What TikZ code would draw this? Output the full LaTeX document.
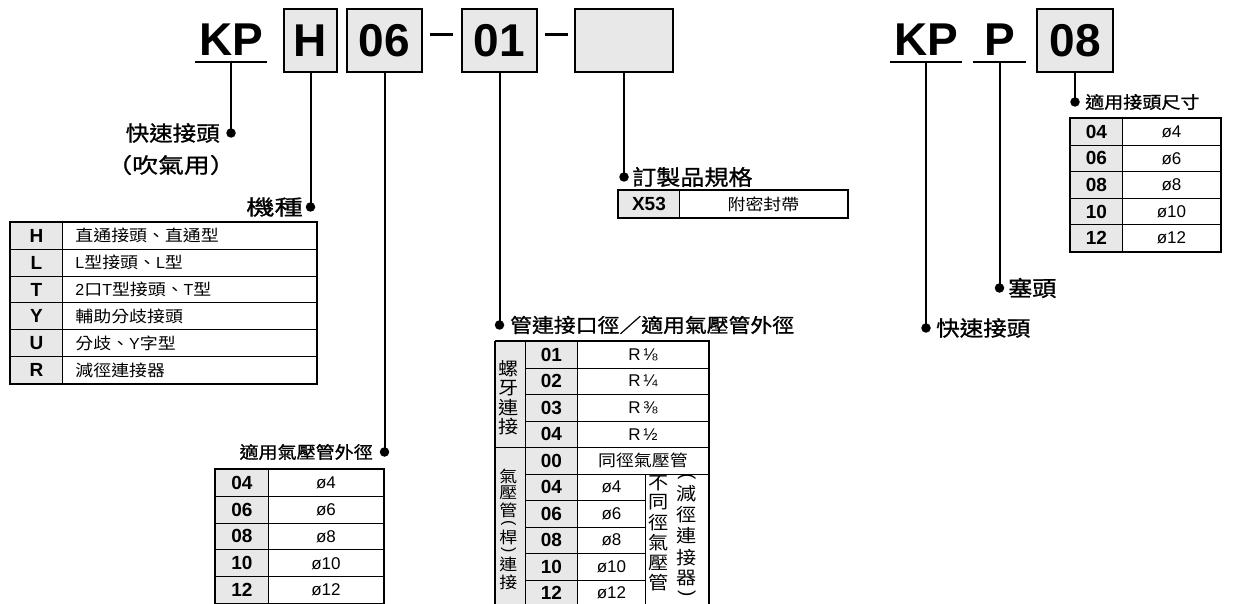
\documentclass[tikz,border=0pt]{standalone}
\usepackage{fontspec}
\usepackage{graphicx}
\setmainfont{Liberation Sans}
\newfontfamily\cjk[FakeStretch=1.12]{Noto Sans CJK TC}
\newfontfamily\cjkb[FakeStretch=1.12,FakeBold=1]{Noto Sans CJK TC}
\definecolor{boxgray}{RGB}{232,232,232}
\newcommand\fs[1]{\fontsize{#1}{#1}\selectfont}
\newcommand\vstk[2]{\vbox{\baselineskip=0pt\lineskip=#1\lineskiplimit=0pt\halign{\hfil##\hfil\cr#2\crcr}}}
\newcommand\vlp[1]{\rotatebox[origin=c]{-90}{\rmfamily\fs{#1}(}}
\newcommand\vrp[1]{\rotatebox[origin=c]{-90}{\rmfamily\fs{#1})}}
\newcommand\rfr[1]{R\kern2.5pt#1}
\tikzset{
  conn/.style={line width=2pt},
  dashln/.style={line width=3pt},
  dot/.style={circle, fill=black, inner sep=0pt, minimum size=9.5pt},
  hbox/.style={draw, line width=1.8pt, fill=boxgray, minimum height=63pt, inner sep=0pt, font=\fs{46}\bfseries},
  hlab/.style={inner xsep=0pt, inner ysep=6pt, text depth=0pt, anchor=base, font=\fs{46}\bfseries},
  lab/.style={inner sep=0pt},
  cell/.style={draw, line width=0.9pt, inner sep=0pt, anchor=north west},
  code/.style={cell, fill=boxgray, font=\fs{19}\bfseries},
  val/.style={cell, font=\fs{17}},
  outer/.style={draw, line width=1.4pt}
}
\begin{document}
\begin{tikzpicture}[x=1pt,y=-1pt]
\useasboundingbox (0,0) rectangle (1242,604);
% ---------- header ----------
\node[hlab, minimum width=72pt] (kp1) at (231,56) {KP};
\node[hbox, minimum width=53pt] (bh) at (310.5,40.5) {H};
\node[hbox, minimum width=75pt] (b06) at (384.5,40.5) {06};
\coordinate (m1a) at (430,35); \coordinate (m1b) at (453,35);
\draw[dashln] (m1a) -- (m1b);
\node[hbox, minimum width=75pt] (b01) at (499.5,40.5) {01};
\coordinate (m2a) at (545,35); \coordinate (m2b) at (568,35);
\draw[dashln] (m2a) -- (m2b);
\node[hbox, minimum width=98pt] (bbl) at (624,40.5) {};
\node[hlab, minimum width=72pt] (kp2) at (926,56) {KP};
\node[hlab, minimum width=53pt] (pp) at (999.5,56) {P};
\node[hbox, minimum width=76pt] (b08) at (1075,40.5) {08};
\draw[conn] (kp1.south west) -- (kp1.south east);
\draw[conn] (kp2.south west) -- (kp2.south east);
\draw[conn] (pp.south west) -- (pp.south east);
% ---------- dots ----------
\node[dot] (dkp1) at (231,133) {};
\node[dot] (dh) at (310.5,207) {};
\node[dot] (d06) at (384.5,452) {};
\node[dot] (d01) at (499.5,325) {};
\node[dot] (dbl) at (624,177) {};
\node[dot] (dkp2) at (926,328) {};
\node[dot] (dp) at (999.5,288) {};
\node[dot] (d08) at (1075,102) {};
\draw[conn] (kp1.south) -- (dkp1.center);
\draw[conn] (bh.south) -- (dh.center);
\draw[conn] (b06.south) -- (d06.center);
\draw[conn] (b01.south) -- (d01.center);
\draw[conn] (bbl.south) -- (dbl.center);
\draw[conn] (kp2.south) -- (dkp2.center);
\draw[conn] (pp.south) -- (dp.center);
\draw[conn] (b08.south) -- (d08.center);
% ---------- labels ----------
\node[lab, anchor=east] (lkp1) at (220,133) {\cjkb\fs{21}快速接頭};
\node[lab] (lkp1b) at (171,165) {\cjkb\fs{21}\scalebox{1.1}[1]{（吹氣用）}};
\node[lab, anchor=east] (lh) at (303,207) {\cjkb\fs{21}\scalebox{1.2}[1]{機種}};
\node[lab, anchor=east] (l06) at (373,452) {\cjkb\fs{17}適用氣壓管外徑};
\node[lab, anchor=west] (l01) at (510,325) {\cjkb\fs{19.5}管連接口徑／適用氣壓管外徑};
\node[lab, anchor=west] (lbl) at (632,177) {\cjkb\fs{21.5}訂製品規格};
\node[lab, anchor=west] (l08) at (1085,102) {\cjkb\fs{17}適用接頭尺寸};
\node[lab, anchor=west] (lp) at (1008,288) {\cjkb\fs{21.5}塞頭};
\node[lab, anchor=west] (lkp2) at (936,328) {\cjkb\fs{21}快速接頭};
% ---------- table: 機種 ----------
\foreach \c/\v [count=\i from 0] in {H/{\cjk 直通接頭、直通型},L/{L{\cjk 型接頭、}L{\cjk 型}},T/{2{\cjk 口}T{\cjk 型接頭、}T{\cjk 型}},Y/{\cjk 輔助分歧接頭},U/{{\cjk 分歧、}Y{\cjk 字型}},R/{\cjk 減徑連接器}} {
  \node[code, minimum width=52pt, minimum height=26.83pt] (ka\i) at (10,{222+26.83*\i}) {\c};
  \node[val, font=\fs{16}, minimum width=254pt, minimum height=26.83pt] (kb\i) at (62,{222+26.83*\i}) {\makebox[254pt][l]{\hspace{13pt}\v}};
}
\draw[outer] (ka0.north west) rectangle (kb5.south east);
% ---------- table: 適用氣壓管外徑 ----------
\foreach \c/\v [count=\i from 0] in {04/ø4,06/ø6,08/ø8,10/ø10,12/ø12} {
  \node[code, minimum width=53pt, minimum height=26.8pt] (ta\i) at (215,{469+26.8*\i}) {\c};
  \node[val, minimum width=115pt, minimum height=26.8pt] (tb\i) at (268,{469+26.8*\i}) {\v};
}
\draw[outer] (ta0.north west) rectangle (tb4.south east);
% ---------- table: 適用接頭尺寸 ----------
\foreach \c/\v [count=\i from 0] in {04/ø4,06/ø6,08/ø8,10/ø10,12/ø12} {
  \node[code, minimum width=52pt, minimum height=26.6pt] (ra\i) at (1070,{118+26.6*\i}) {\c};
  \node[val, minimum width=98pt, minimum height=26.6pt] (rb\i) at (1122,{118+26.6*\i}) {\v};
}
\draw[outer] (ra0.north west) rectangle (rb4.south east);
% ---------- table: 訂製品規格 ----------
\node[code, minimum width=61pt, minimum height=27pt] (xa) at (618,190) {X53};
\node[val, font=\fs{16}, minimum width=168pt, minimum height=27pt] (xb) at (679,190) {\cjk 附密封帶};
\draw[outer] (xa.north west) rectangle (xb.south east);
% ---------- table: 管連接口徑 ----------
\node[cell, fill=boxgray, minimum width=30pt, minimum height=106pt] (mg1) at (495,341) {};
\node[cell, fill=boxgray, minimum width=30pt, minimum height=159pt] (mg2) at (495,447) {};
\node[lab] (mg1t) at ([yshift=-3.5pt]mg1.center) {\cjk\fs{18}\vstk{3pt}{螺 \cr 牙 \cr 連 \cr 接 }};
\node[lab] (mg2t) at ([yshift=-2pt]mg2.center) {\cjk\fs{16}\vstk{2.8pt}{氣 \cr 壓 \cr 管 \cr \vlp{16} \cr 桿 \cr \vrp{16} \cr 連 \cr 接 }};
\foreach \c/\v [count=\i from 0] in {01/\rfr{⅛},02/\rfr{¼},03/\rfr{⅜},04/\rfr{½},00/{\fs{16}\cjk 同徑氣壓管}} {
  \node[code, minimum width=52pt, minimum height=26.5pt] (mc\i) at (525,{341+26.5*\i}) {\c};
  \node[val, minimum width=131pt, minimum height=26.5pt] (mv\i) at (577,{341+26.5*\i}) {\v};
}
\foreach \c/\v [count=\i from 5] in {04/ø4,06/ø6,08/ø8,10/ø10,12/ø12} {
  \node[code, minimum width=52pt, minimum height=26.5pt] (mc\i) at (525,{341+26.5*\i}) {\c};
  \node[val, minimum width=68pt, minimum height=26.5pt] (mv\i) at (577,{341+26.5*\i}) {\v};
}
\node[cell, minimum width=63pt, minimum height=132pt] (mr) at (645,474) {};
\node[lab, anchor=north] (mrt1) at (661,475) {\cjk\fs{18}\vstk{4pt}{不 \cr 同 \cr 徑 \cr 氣 \cr 壓 \cr 管 }};
\node[lab, anchor=north] (mrt2) at (689,473) {\cjk\fs{18}\vstk{4.5pt}{\vlp{19} \cr 減 \cr 徑 \cr 連 \cr 接 \cr 器 \cr \vrp{19} }};
\draw[outer] (mg1.north west) -- (mv0.north east) -- (mr.south east);
\draw[outer] (mg1.north west) -- (mg2.south west);
\end{tikzpicture}
\end{document}
